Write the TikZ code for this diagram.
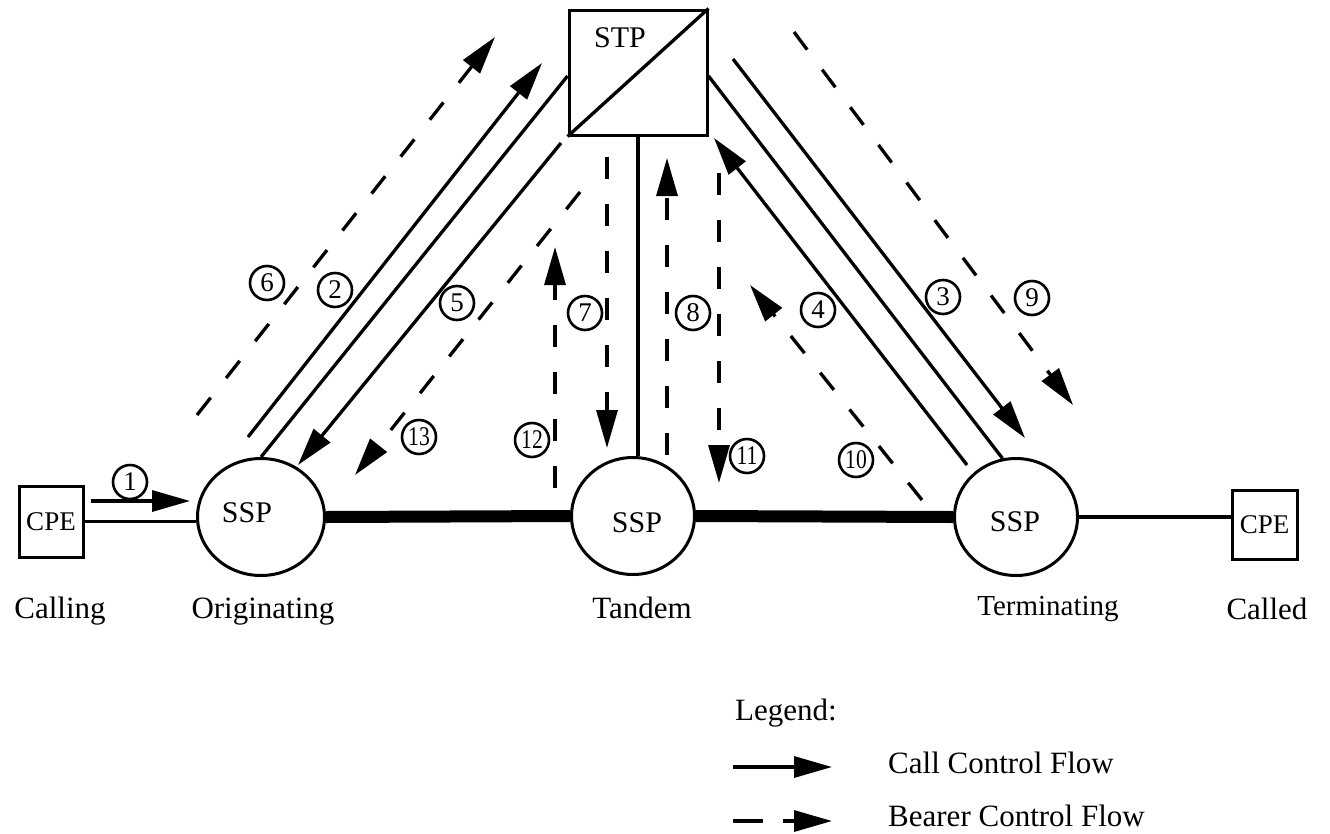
\documentclass[tikz,border=0pt]{standalone}
\usepackage{fontspec}
\setmainfont{Liberation Serif}
\usetikzlibrary{arrows.meta,shapes.geometric}
\begin{document}
\begin{tikzpicture}[x=1pt,y=-1pt,
  every node/.style={font=\fontsize{31}{36}\selectfont},
  ln/.style={line width=3.3pt},
  flow/.style={line width=3.3pt,-{Triangle[length=38pt,width=21pt]}},
  bflow/.style={flow, dash pattern=on 22pt off 25pt},
  sspbox/.style={ellipse, draw, line width=3pt, minimum width=123pt, minimum height=117pt, inner sep=0pt},
  cpebox/.style={rectangle, draw, line width=3pt, inner sep=0pt, font=\fontsize{27}{30}\selectfont},
  num/.style={circle, draw, line width=2.6pt, minimum size=34pt, inner sep=0pt, font=\fontsize{27}{29}\selectfont},
  lbl/.style={anchor=base, inner sep=0pt},
  sspt/.style={anchor=base, inner sep=0pt, font=\fontsize{30}{34}\selectfont}
]
\useasboundingbox (0,0) rectangle (1330,833);

% nodes
\node[cpebox, minimum width=64pt, minimum height=71pt] (cpe1) at (51,521.5) {CPE};
\node[cpebox, minimum width=65pt, minimum height=69pt] (cpe2) at (1264.5,524.5) {CPE};
\node[sspbox, minimum width=127pt] (ssp1) at (261,517) {};
\node[sspbox] (ssp2) at (633,516) {};
\node[sspbox] (ssp3) at (1016,517) {};
\node[sspt] (ssp1t) at (247,522) {SSP};
\node[sspt] (ssp2t) at (637,532) {SSP};
\node[sspt] (ssp3t) at (1015,531) {SSP};
\node[draw, line width=3pt, minimum width=138pt, minimum height=125pt, inner sep=0pt] (stp) at (638,72.5) {};
\node[sspt] (stpt) at (620,47) {STP};

\node[lbl] (calling) at (60,618) {Calling};
\node[lbl] (orig) at (263,618) {Originating};
\node[lbl] (tandem) at (642,618) {Tandem};
\node[lbl, font=\fontsize{29}{34}\selectfont] (term) at (1048,615) {Terminating};
\node[lbl] (called) at (1267,619) {Called};

% links
\draw[ln] (stp.south west) -- (stp.north east);
\draw[ln] (cpe1.east) -- (cpe1.east -| ssp1.west);
\draw[line width=12pt] (ssp1.east) -- (ssp2.west);
\draw[line width=12pt] (ssp2.east) -- (ssp3.west);
\draw[ln] (ssp3.east) -- (ssp3.east -| cpe2.west);
\draw[ln] (stp.south) -- (stp.south |- ssp2.north);
\draw[ln] (ssp1.north) -- ([yshift=-3.5pt]stp.west);
\draw[ln] (ssp3.103) -- ([yshift=-3.5pt]stp.east);

% flow end points
\coordinate (a1s) at (91,501);   \coordinate (a1e) at (190,501);
\coordinate (a2s) at (248,437);  \coordinate (a2e) at (542,63);
\coordinate (a3s) at (733,59);   \coordinate (a3e) at (1025,438);
\coordinate (a4s) at (967,465);  \coordinate (a4e) at (714,138);
\coordinate (a5s) at (561,143);  \coordinate (a5e) at (298,465);
\coordinate (a6s) at (197,415);  \coordinate (a6e) at (495,37);
\coordinate (a7s) at (607,157);  \coordinate (a7e) at (607,448);
\coordinate (a8s) at (667,455);  \coordinate (a8e) at (667,158);
\coordinate (a9s) at (794,32);   \coordinate (a9e) at (1073,405);
\coordinate (a10s) at (922,500); \coordinate (a10e) at (750,285);
\coordinate (a11s) at (719,173); \coordinate (a11e) at (719,483);
\coordinate (a12s) at (555,488); \coordinate (a12e) at (555,247);
\coordinate (a13s) at (580,192); \coordinate (a13e) at (355,475);

% call control flows
\draw[flow] (a1s) -- (a1e);
\draw[flow] (a2s) -- (a2e);
\draw[flow] (a3s) -- (a3e);
\draw[flow] (a4s) -- (a4e);
\draw[flow] (a5s) -- (a5e);
% bearer control flows
\draw[bflow] (a6s) -- (a6e);
\draw[bflow] (a7s) -- (a7e);
\draw[bflow] (a8s) -- (a8e);
\draw[bflow] (a9s) -- (a9e);
\draw[bflow] (a10s) -- (a10e);
\draw[bflow] (a11s) -- (a11e);
\draw[bflow] (a12s) -- (a12e);
\draw[bflow] (a13s) -- (a13e);

% step numbers
\node[num] (n1) at (130,482) {1};
\node[num] (n2) at (335,290) {2};
\node[num] (n3) at (943,297) {3};
\node[num] (n4) at (818,310) {4};
\node[num] (n5) at (457,303) {5};
\node[num] (n6) at (267,283) {6};
\node[num] (n7) at (585,313) {7};
\node[num] (n8) at (693,313) {8};
\node[num] (n9) at (1032,298) {9};
\node[num] (n10) at (856,460) {\scalebox{0.8}[1]{10}};
\node[num] (n11) at (747,456) {\scalebox{0.8}[1]{11}};
\node[num] (n12) at (532,440) {\scalebox{0.8}[1]{12}};
\node[num] (n13) at (419,437) {\scalebox{0.8}[1]{13}};

% legend
\node[lbl, anchor=base west] (leg) at (735,720) {Legend:};
\coordinate (l1s) at (733,767); \coordinate (l1e) at (832,767);
\coordinate (l2s) at (733,821); \coordinate (l2e) at (832,821);
\draw[flow] (l1s) -- (l1e);
\draw[flow, dash pattern=on 30pt off 20pt] (l2s) -- (l2e);
\node[lbl, anchor=base west] (l1t) at (888,773) {Call Control Flow};
\node[lbl, anchor=base west] (l2t) at (888,826) {Bearer Control Flow};
\end{tikzpicture}
\end{document}
